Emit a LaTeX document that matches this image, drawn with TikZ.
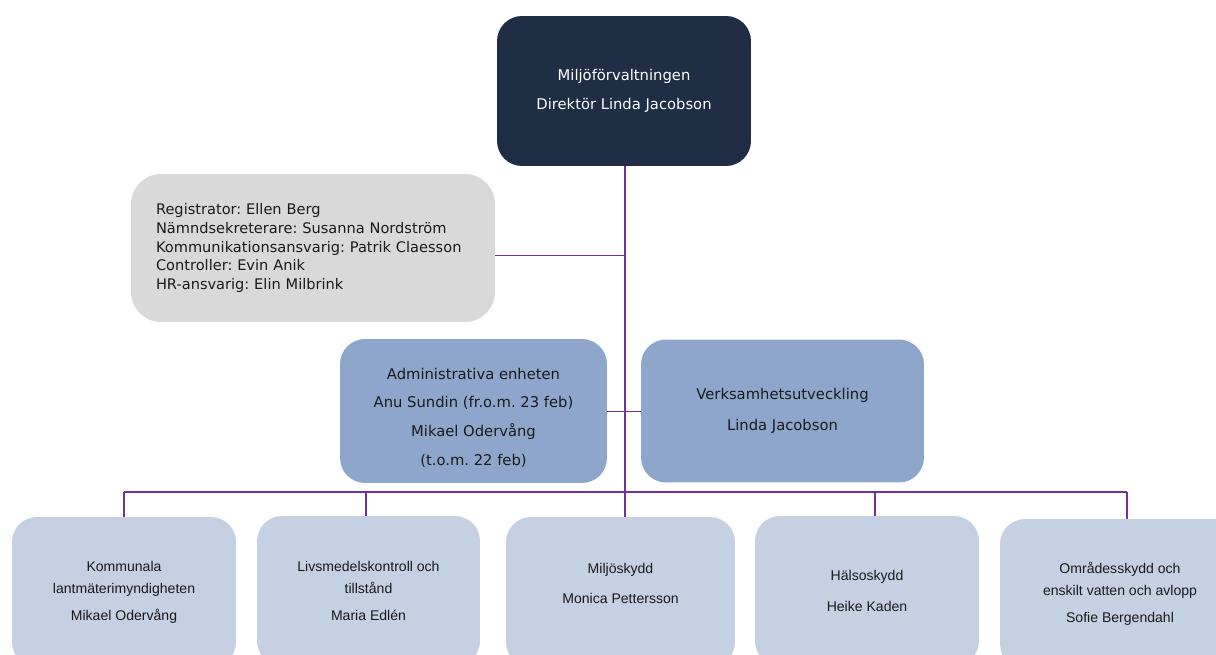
\documentclass[tikz,border=0pt]{standalone}
\usepackage{fontspec}
\usepackage{tikz}
\usetikzlibrary{positioning, calc}
\newfontfamily\boxfont{DejaVu Sans}
\newfontfamily\unitfont{Liberation Sans}
\definecolor{navy}{HTML}{1F2D45}
\definecolor{grey}{HTML}{D9D9D9}
\definecolor{blue2}{HTML}{8EA6CC}
\definecolor{blue3}{HTML}{C5D0E3}
\definecolor{lila}{HTML}{7030A0}
\definecolor{ink}{HTML}{1A1A1A}
\frenchspacing

\begin{document}
\begin{tikzpicture}[x=0.02cm, y=-0.02cm,
    box/.style={rounded corners=0.5cm, inner sep=0pt, align=center},
    head/.style={box, fill=navy, text=white, font=\boxfont\fontsize{8.4}{16.4}\selectfont},
    staff/.style={box, fill=grey, text=ink, align=left, inner xsep=0.5cm,
        text width=6.28cm, rounded corners=0.6cm, font=\boxfont\fontsize{8.3}{10.8}\selectfont},
    mid/.style={box, fill=blue2, text=ink, font=\boxfont\fontsize{8.4}{16.4}\selectfont},
    unit/.style={box, fill=blue3, text=ink, minimum height=3cm,
        font=\unitfont\fontsize{8}{12.5}\selectfont},
    link/.style={draw=lila, line width=0.6pt}]
			\useasboundingbox (0,0) rectangle (1216,655);

			% Top
			\node[head, minimum width=5.08cm, minimum height=3cm] (dir) at (624,91)
				{Miljöförvaltningen\\Direktör Linda Jacobson};

			% Staff functions
			\node[staff, minimum height=2.96cm] (stab) at (313,248)
				{Registrator: Ellen Berg\\Nämndsekreterare: Susanna Nordström\\Kommunikationsansvarig: Patrik Claesson\\Controller: Evin Anik\\HR-ansvarig: Elin Milbrink};

			% Middle row
			\node[mid, minimum width=5.34cm, minimum height=2.88cm] (adm) at (473.5,411)
				{\rule{0pt}{14pt}Administrativa enheten\\Anu Sundin (fr.o.m. 23 feb)\\Mikael Odervång\\(t.o.m. 22 feb)};
			\node[mid, minimum width=5.66cm, minimum height=2.86cm] (verk) at (782.5,411)
				{Verksamhetsutveckling\\[1.5pt]Linda Jacobson};

			% Units
			\node[unit, minimum width=4.48cm] (u1) at (124,592)
				{Kommunala\\lantmäterimyndigheten\\[2.8pt]Mikael Odervång};
			\node[unit, minimum width=4.46cm] (u2) at (368.5,591)
				{Livsmedelskontroll och\\tillstånd\\[2.8pt]Maria Edlén};
			\node[unit, minimum width=4.58cm] (u3) at (620.5,592)
				{Miljöskydd\\[4.5pt]Monica Pettersson\\[-2.5pt]\mbox{}};
			\node[unit, minimum width=4.48cm] (u4) at (867,591)
				{Hälsoskydd\\[5pt]Heike Kaden};
			\node[unit, minimum width=4.8cm] (u5) at (1120,594)
				{Områdesskydd och\\enskilt vatten och avlopp\\[2.8pt]Sofie Bergendahl};

			% Connectors
			\coordinate (barL) at (124,492);
			\coordinate (barR) at (1127,492);
			\draw[link] ([xshift=0.02cm]dir.south) -- ([xshift=0.02cm]dir.south |- u3.north);
			\draw[link] ([yshift=-0.15cm]stab.east) -- ([yshift=-0.15cm]stab.east -| dir.south);
			\draw[link] ([yshift=-0.01cm]adm.east) -- ([yshift=-0.01cm]verk.west);
			\draw[link] (barL) -- (barR);
			\draw[link] (barL) -- (barL |- u1.north);
			\draw[link] (barL -| u2.north) ++(-0.05cm,0) -- ([xshift=-0.05cm]u2.north);
			\draw[link] (barR -| u4.north) ++(0.16cm,0) -- ([xshift=0.16cm]u4.north);
			\draw[link] (barR) -- (barR |- u5.north);
		\end{tikzpicture}
\end{document}
